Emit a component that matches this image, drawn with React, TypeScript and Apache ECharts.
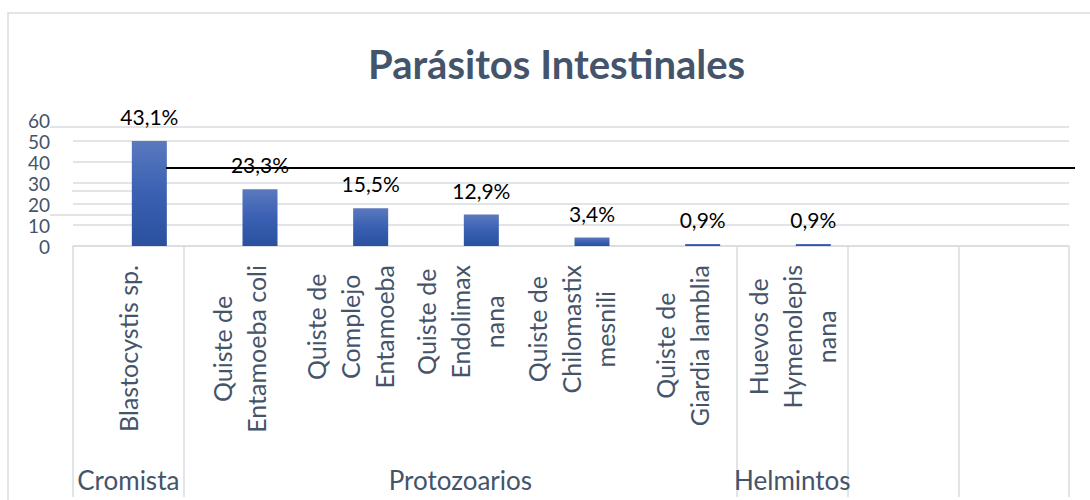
import React, { useEffect, useRef } from "react";
import * as echarts from "echarts";

const title = "Parásitos Intestinales";
const categories = [
  "Blastocystis sp.",
  "Quiste de\nEntamoeba coli",
  "Quiste de\nComplejo\nEntamoeba",
  "Quiste de\nEndolimax\nnana",
  "Quiste de\nChilomastix\nmesnili",
  "Quiste de\nGiardia lamblia",
  "Huevos de\nHymenolepis\nnana",
  "",
  "",
];
const counts = [50, 27, 18, 15, 4, 1, 1, null, null];
const percentLabels = ["43,1%", "23,3%", "15,5%", "12,9%", "3,4%", "0,9%", "0,9%", "", ""];
const groups = [
  { name: "Cromista", start: 0, end: 0 },
  { name: "Protozoarios", start: 1, end: 5 },
  { name: "Helmintos", start: 6, end: 6 },
  { name: "", start: 7, end: 7 },
  { name: "", start: 8, end: 8 },
];
const yTicks = { min: 0, max: 60, interval: 10 };

const FONT = "Lato, 'Noto Sans', sans-serif";
const SLATE = "#44546A";
const GRID = "#D9DCE1";

export default function App() {
  const ref = useRef<HTMLDivElement>(null);
  useEffect(() => {
    if (!ref.current) return;
    const chart = echarts.init(ref.current, undefined, { renderer: "svg" });

    const groupLabelAt: Record<number, string> = {};
    const boundaryStarts = new Set<number>();
    groups.forEach((g) => {
      groupLabelAt[Math.floor((g.start + g.end) / 2)] = g.name;
      boundaryStarts.add(g.start);
    });

    const gradient = new echarts.graphic.LinearGradient(0, 0, 0, 1, [
      { offset: 0, color: "#5A79BE" },
      { offset: 0.5, color: "#3A60B3" },
      { offset: 1, color: "#2A509E" },
    ]);

    chart.setOption({
      animation: false,
      title: {
        text: title,
        left: 363,
        top: 39,
        textStyle: { fontFamily: FONT, fontSize: 40, fontWeight: "bold", color: SLATE },
      },
      grid: { left: 73, right: 21, top: 120, bottom: 254, containLabel: false },
      xAxis: [
        {
          type: "category",
          data: categories,
          position: "bottom",
          axisLine: { show: true, lineStyle: { color: GRID, width: 1.5 } },
          axisTick: { show: false },
          axisLabel: {
            interval: 0,
            rotate: 90,
            margin: 19,
            color: SLATE,
            fontFamily: FONT,
            fontSize: 25,
            formatter: (v: string) =>
              v
                .split("\n")
                .map((l) => `{c|${l}}`)
                .join("\n"),
            rich: {
              c: { align: "center", fontFamily: FONT, fontSize: 25, lineHeight: 34, color: SLATE },
            },
          },
        },
        {
          type: "category",
          data: categories,
          position: "bottom",
          axisLine: { show: false },
          axisTick: {
            show: true,
            length: 251,
            interval: (index: number) => boundaryStarts.has(index),
            lineStyle: { color: GRID, width: 1.5 },
          },
          axisLabel: {
            interval: 0,
            margin: 221,
            color: SLATE,
            fontFamily: FONT,
            fontSize: 26,
            formatter: (_v: string, index: number) => groupLabelAt[index] || "",
          },
        },
      ],
      yAxis: {
        type: "value",
        min: yTicks.min,
        max: yTicks.max,
        interval: yTicks.interval,
        axisLine: { show: false },
        axisTick: { show: false },
        axisLabel: { margin: 23, color: SLATE, fontFamily: FONT, fontSize: 19, lineHeight: 19 },
        splitLine: {
          show: true,
          lineStyle: {
            color: [GRID, GRID, GRID, GRID, "rgba(0,0,0,0)", GRID, "rgba(0,0,0,0)"],
            width: 1.5,
          },
        },
      },
      series: [
        {
          type: "bar",
          xAxisIndex: 0,
          data: counts.map(() => null),
          barWidth: 35,
          barGap: "20%",
        },
        {
          type: "bar",
          xAxisIndex: 0,
          data: counts,
          barWidth: 35,
          barGap: "20%",
          itemStyle: { color: gradient },
          label: {
            show: true,
            position: "top",
            distance: 14,
            color: "#000",
            fontFamily: FONT,
            fontSize: 21,
            formatter: (p: any) => percentLabels[p.dataIndex],
          },
        },
      ],
      graphic: [
        {
          type: "rect",
          silent: true,
          z: -10,
          shape: { x: 8, y: 13, width: 1200, height: 600 },
          style: { fill: "none", stroke: GRID, lineWidth: 1.5 },
        },
        { type: "line", silent: true, shape: { x1: 50, y1: 127, x2: 1069, y2: 127 }, style: { stroke: GRID, lineWidth: 1.5 } },
        { type: "line", silent: true, shape: { x1: 73, y1: 162, x2: 132, y2: 162 }, style: { stroke: GRID, lineWidth: 1.5 } },
        { type: "line", silent: true, shape: { x1: 72, y1: 191, x2: 137, y2: 191 }, style: { stroke: GRID, lineWidth: 1.5 } },
        { type: "line", silent: true, shape: { x1: 50, y1: 215, x2: 137, y2: 215 }, style: { stroke: GRID, lineWidth: 1.5 } },
        { type: "line", silent: true, z: 100, shape: { x1: 166, y1: 168, x2: 1075, y2: 168 }, style: { stroke: "#000", lineWidth: 2 } },
      ],
    });
    return () => chart.dispose();
  }, []);
  return (
    <div
      ref={ref}
      style={{ position: "absolute", left: 0, top: 0, width: 1090, height: 500, background: "#fff" }}
    />
  );
}
